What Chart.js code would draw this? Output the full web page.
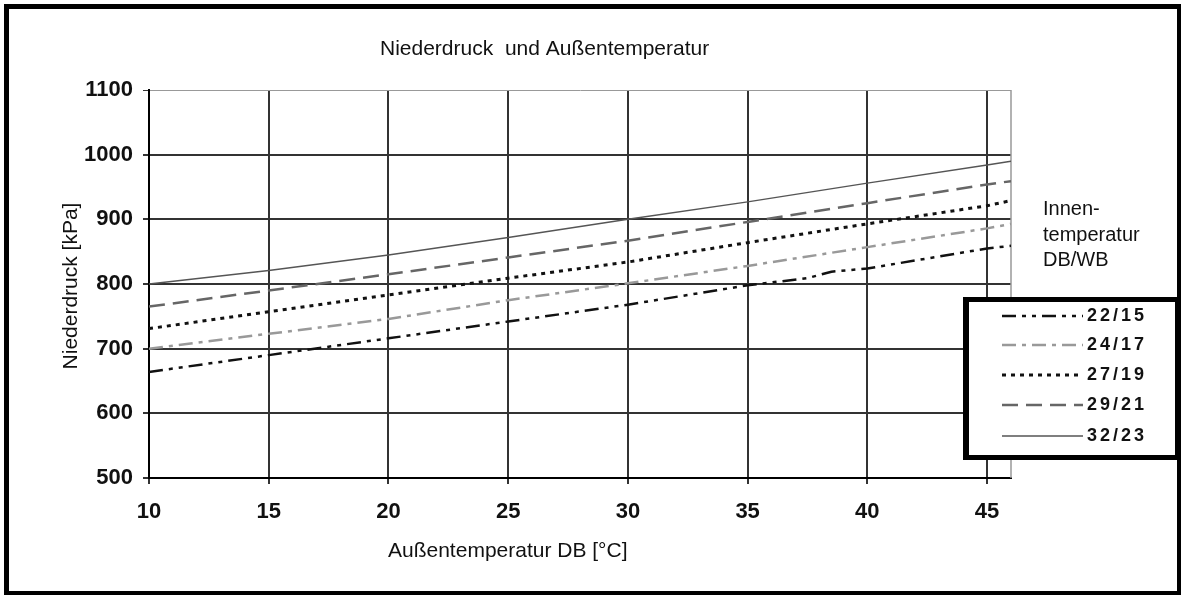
<!DOCTYPE html>
<html><head><meta charset="utf-8">
<script src="https://cdn.jsdelivr.net/npm/chart.js@4.4.1/dist/chart.umd.min.js"></script>
<style>html,body{margin:0;padding:0;background:#fff;} #wrap{position:relative;width:1181px;height:595px;} canvas{display:block;}</style>
</head><body><div id="wrap"><canvas id="c" width="1181" height="595"></canvas></div>
<script>
const chartTitle = 'Niederdruck  und Außentemperatur';
const xTitle = 'Außentemperatur DB [°C]';
const yTitle = 'Niederdruck [kPa]';
const legendNote = ['Innen-', 'temperatur', 'DB/WB'];
const seriesLabels = ['22/15', '24/17', '27/19', '29/21', '32/23'];

const tempsMain = [10, 15, 20, 25, 30, 35, 40, 45, 46];
const temps2215 = [10, 15, 20, 25, 30, 35, 37.5, 38.5, 40, 45, 46];

const p2215 = [664, 690, 716, 742, 768, 798, 809, 819, 824, 855, 859];
const p2417 = [700, 723, 746, 775, 801, 828, 857, 886, 893];
const p2719 = [731, 757, 783, 809, 834, 864, 893, 921, 929];
const p2921 = [765, 790, 815, 841, 867, 896, 925, 954, 959];
const p3223 = [800, 821, 845, 872, 900, 927, 956, 984, 990];

const xTicks = [10, 15, 20, 25, 30, 35, 40, 45];
const yTicks = [500, 600, 700, 800, 900, 1000, 1100];

const FONT = "'Liberation Sans', Arial, sans-serif";
const pts = (xs, ys) => xs.map((x, i) => ({x: x, y: ys[i]}));

const styles = [
  {color: '#111', width: 2.5, dash: [14, 6, 4, 6, 4, 6]},
  {color: '#999', width: 2.5, dash: [14, 6, 4, 6]},
  {color: '#111', width: 3, dash: [4, 5]},
  {color: '#666', width: 2.5, dash: [16, 8]},
  {color: '#555', width: 1.5, dash: []}
];
const seriesData = [pts(temps2215, p2215), pts(tempsMain, p2417), pts(tempsMain, p2719), pts(tempsMain, p2921), pts(tempsMain, p3223)];

const datasets = seriesLabels.map((lab, i) => ({
  label: lab,
  data: seriesData[i],
  borderColor: styles[i].color,
  borderWidth: styles[i].width,
  borderDash: styles[i].dash,
  pointRadius: 0,
  tension: 0,
  fill: false
}));

const deco = {
  id: 'deco',
  beforeDatasetsDraw(chart) {
    const {ctx, chartArea: a} = chart;
    ctx.save();
    ctx.strokeStyle = '#999';
    ctx.lineWidth = 1.5;
    ctx.beginPath();
    ctx.moveTo(a.right, a.top);
    ctx.lineTo(a.right, a.bottom);
    ctx.stroke();
    ctx.restore();
  },
  afterDraw(chart) {
    const ctx = chart.ctx;
    ctx.save();
    ctx.fillStyle = '#000';
    ctx.fillRect(4, 4, 1177, 5);
    ctx.fillRect(4, 4, 5, 591);
    ctx.fillRect(1177, 4, 4, 591);
    ctx.fillRect(4, 591, 1177, 4);
    ctx.fillStyle = '#111';
    ctx.font = '21px ' + FONT;
    ctx.textBaseline = 'middle';
    ctx.textAlign = 'left';
    ctx.fillText(chartTitle, 380, 49);
    ctx.fillText(xTitle, 388, 551);
    ctx.save();
    ctx.translate(71, 286);
    ctx.rotate(-Math.PI / 2);
    ctx.textAlign = 'center';
    ctx.fillText(yTitle, 0, 0);
    ctx.restore();
    ctx.font = '20px ' + FONT;
    ctx.textAlign = 'left';
    const noteY = [209, 235, 260];
    legendNote.forEach((t, i) => ctx.fillText(t, 1043, noteY[i]));
    ctx.fillStyle = '#fff';
    ctx.fillRect(963, 297, 217, 163);
    ctx.fillStyle = '#000';
    ctx.fillRect(963, 297, 217, 5);
    ctx.fillRect(963, 297, 6, 163);
    ctx.fillRect(1175, 297, 5, 163);
    ctx.fillRect(963, 455, 217, 5);
    const ly = [316, 345, 375, 405, 436];
    chart.data.datasets.forEach((ds, i) => {
      ctx.save();
      ctx.strokeStyle = ds.borderColor;
      ctx.lineWidth = ds.borderWidth;
      ctx.setLineDash(ds.borderDash);
      ctx.beginPath();
      ctx.moveTo(1002, ly[i]);
      ctx.lineTo(1083, ly[i]);
      ctx.stroke();
      ctx.restore();
      ctx.fillStyle = '#111';
      ctx.font = 'bold 18px ' + FONT;
      ctx.letterSpacing = '3px';
      ctx.textBaseline = 'middle';
      ctx.fillText(ds.label, 1087, ly[i]);
      ctx.letterSpacing = '0px';
    });
    ctx.restore();
  }
};

new Chart(document.getElementById('c'), {
  type: 'line',
  data: {datasets: datasets},
  options: {
    responsive: false,
    animation: false,
    devicePixelRatio: 1,
    layout: {padding: {top: 90, right: 170, left: 0, bottom: 0}},
    plugins: {legend: {display: false}, title: {display: false}, tooltip: {enabled: false}},
    scales: {
      x: {
        type: 'linear',
        min: 10, max: 46,
        afterBuildTicks: s => { s.ticks = xTicks.map(v => ({value: v})); },
        afterFit: s => { s.height = 117; },
        border: {color: '#000', width: 2},
        grid: {color: '#333', lineWidth: 2, tickLength: 6, tickColor: '#333'},
        ticks: {color: '#111', font: {family: FONT, size: 22, weight: 'bold'}, padding: 15, maxRotation: 0, callback: v => String(v)}
      },
      y: {
        min: 500, max: 1100,
        afterBuildTicks: s => { s.ticks = yTicks.map(v => ({value: v})); },
        afterFit: s => { s.width = 149; },
        border: {color: '#000', width: 2},
        grid: {
          color: c => (c.tick && c.tick.value === 1100) ? '#999' : '#333',
          lineWidth: c => (c.tick && c.tick.value === 1100) ? 1 : 2,
          tickLength: 6, tickColor: '#333'
        },
        ticks: {color: '#111', font: {family: FONT, size: 22, weight: 'bold'}, padding: 10, callback: v => String(v)}
      }
    }
  },
  plugins: [deco]
});
</script></body></html>
